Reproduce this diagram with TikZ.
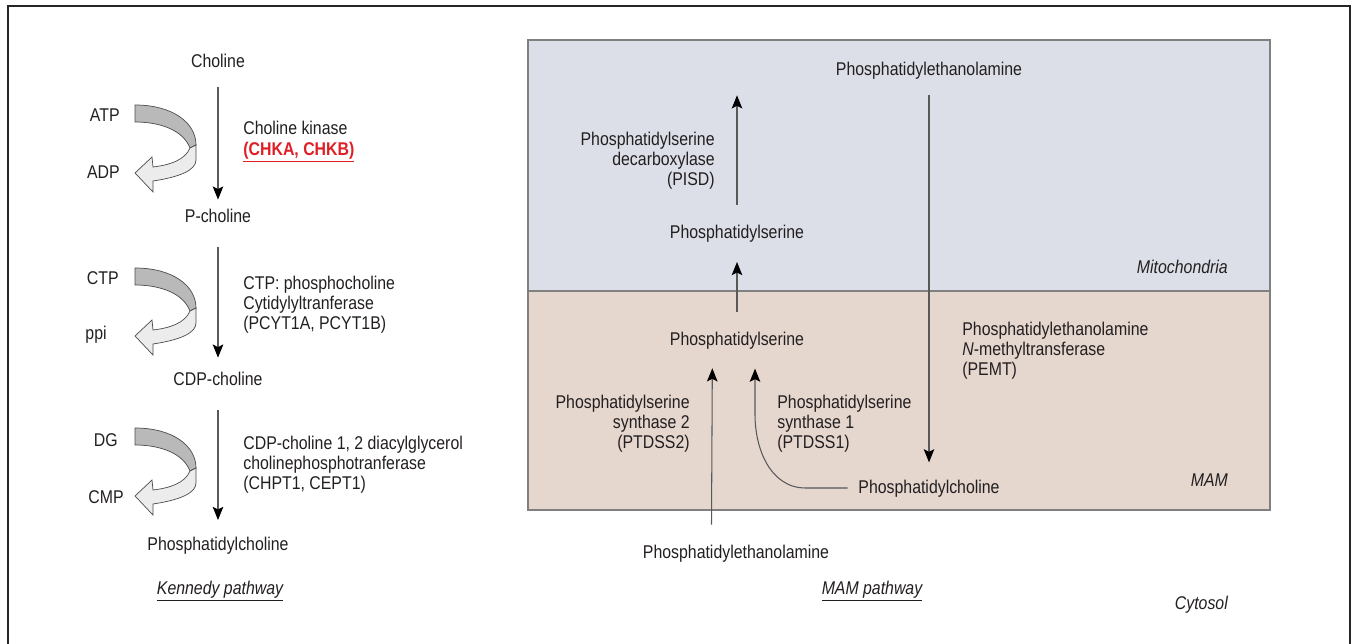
\documentclass[tikz,border=0pt]{standalone}
\usepackage{fontspec}
\setmainfont[FakeStretch=0.86]{Liberation Sans}
\usetikzlibrary{arrows.meta,calc,positioning}
\definecolor{ink}{RGB}{35,31,32}
\definecolor{mito}{RGB}{220,223,232}
\definecolor{mam}{RGB}{229,214,206}
\definecolor{chk}{RGB}{222,32,38}
\definecolor{boxline}{RGB}{128,128,128}

\begin{document}
\begin{tikzpicture}[x=0.02cm, y=-0.02cm, font=\fontsize{10.5}{11.4}\selectfont, text=ink,
    lipid/.style={inner sep=2pt, text height=8pt, text depth=2pt},
    enzyme/.style={inner sep=0pt, align=left},
    cof/.style={inner sep=0pt, anchor=east},
    flow/.style={draw=black!65, line width=0.6pt, -{Stealth[length=7.5pt, width=6pt, inset=1.5pt, color=black]}},
    place/.style={font=\fontsize{10.5}{11.4}\selectfont\itshape},
    cofactor/.pic={
        \filldraw[fill=gray!55, draw=black!70, line width=0.4pt] (0,0) .. controls (38,0) and (61,18) .. (61,40) -- (55,43) .. controls (48,25) and (25,17) .. (0,17) -- cycle;
        \filldraw[fill=gray!15, draw=black!70, line width=0.4pt] (55,43) .. controls (50,55) and (35,60) .. (18,62) -- (17,52) -- (0,68) -- (18,87) -- (18,76) .. controls (45,72) and (61,65) .. (61,55) -- (61,40) -- cycle;
    }]
\useasboundingbox (0,0) rectangle (1354,644);
\draw[black!85, line width=1.2pt] (8,650) -- (8,6) -- (1350,6) -- (1350,650);

% compartments
\fill[mito] (528,40) rectangle (1270,291);
\fill[mam] (528,291) rectangle (1270,510);
\draw[boxline, line width=0.7pt] (528,40) rectangle (1270,510);
\draw[boxline, line width=0.7pt] (528,291) -- (1270,291);

% Kennedy pathway
\node[lipid] (choline) at (218,62) {Choline};
\node[lipid] (pcho) at (218,217) {P-choline};
\node[lipid] (cdpcho) at (218,380) {CDP-choline};
\node[lipid] (pcKen) at (218,545) {Phosphatidylcholine};

\draw[flow, shorten <=7pt, shorten >=2.7pt] (choline) -- (pcho);
\draw[flow, shorten <=10pt, shorten >=5.5pt] (pcho) -- (cdpcho);
\draw[flow, shorten <=10pt, shorten >=7pt] (cdpcho) -- (pcKen);

\node[enzyme, anchor=west] (chk) at (243,142) {Choline kinase\\\textcolor{chk}{\textbf{\underline{(CHKA, CHKB)}}}};
\node[enzyme, anchor=west] (pcyt) at (243,305) {CTP: phosphocholine\\Cytidylyltranferase\\(PCYT1A, PCYT1B)};
\node[enzyme, anchor=west] (chpt) at (243,465) {CDP-choline 1, 2 diacylglycerol\\cholinephosphotranferase\\(CHPT1, CEPT1)};

\pic at (135,105) {cofactor};
\pic at (135,268) {cofactor};
\pic at (135,428) {cofactor};
\node[cof] (atp) at (120,115) {ATP};
\node[cof] (adp) at (120,172) {ADP};
\node[cof] (ctp) at (119,278) {CTP};
\node[cof] (ppi) at (107,335) {ppi};
\node[cof] (dg) at (118,440) {DG};
\node[cof] (cmp) at (124,497) {CMP};

\node[place] (kennedy) at (220,591) {\underline{Kennedy pathway}};

% MAM pathway
\node[lipid] (peM) at (929,70) {Phosphatidylethanolamine};
\node[lipid] (psM) at (737,233) {Phosphatidylserine};
\node[lipid] (psA) at (737,340) {Phosphatidylserine};
\node[lipid] (pcM) at (929,488) {Phosphatidylcholine};
\node[lipid] (peC) at (736,553) {Phosphatidylethanolamine};

\draw[flow, shorten <=8.9pt, shorten >=7.2pt] (psM.north) -- (psM.north |- peM.south);
\draw[flow, shorten <=8.9pt, shorten >=9.3pt] (psA) -- (psM);
\draw[flow, shorten <=7.2pt, shorten >=7.4pt] (peM) -- (pcM);
\draw[flow, shorten <=9pt, shorten >=8.9pt] ([xshift=-14pt]peC.north) -- ([xshift=-14pt]psA.south);
\draw[flow] ([xshift=-4pt]pcM.west) -- ++(-42,0) to[out=180, in=-90] ($(psA.south)+(18,62)$) -- ($(psA.south)+(18,16)$);

\node[enzyme, anchor=east, align=right] (pisd) at (715,161) {Phosphatidylserine\\decarboxylase\\(PISD)};
\node[enzyme, anchor=east, align=right] (ptdss2) at (690,424) {Phosphatidylserine\\synthase 2\\(PTDSS2)};
\node[enzyme, anchor=west] (ptdss1) at (777,424) {Phosphatidylserine\\synthase 1\\(PTDSS1)};
\node[enzyme, anchor=west] (pemt) at (962,351) {Phosphatidylethanolamine\\\textit{N}-methyltransferase\\(PEMT)};

\node[place, anchor=east] (mitoLabel) at (1234,267) {Mitochondria};
\node[place, anchor=east] (mamLabel) at (1234,480) {MAM};
\node[place, anchor=east] (cytLabel) at (1234,605) {Cytosol};
\node[place] (mamPath) at (872,591) {\underline{MAM pathway}};
\end{tikzpicture}
\end{document}
